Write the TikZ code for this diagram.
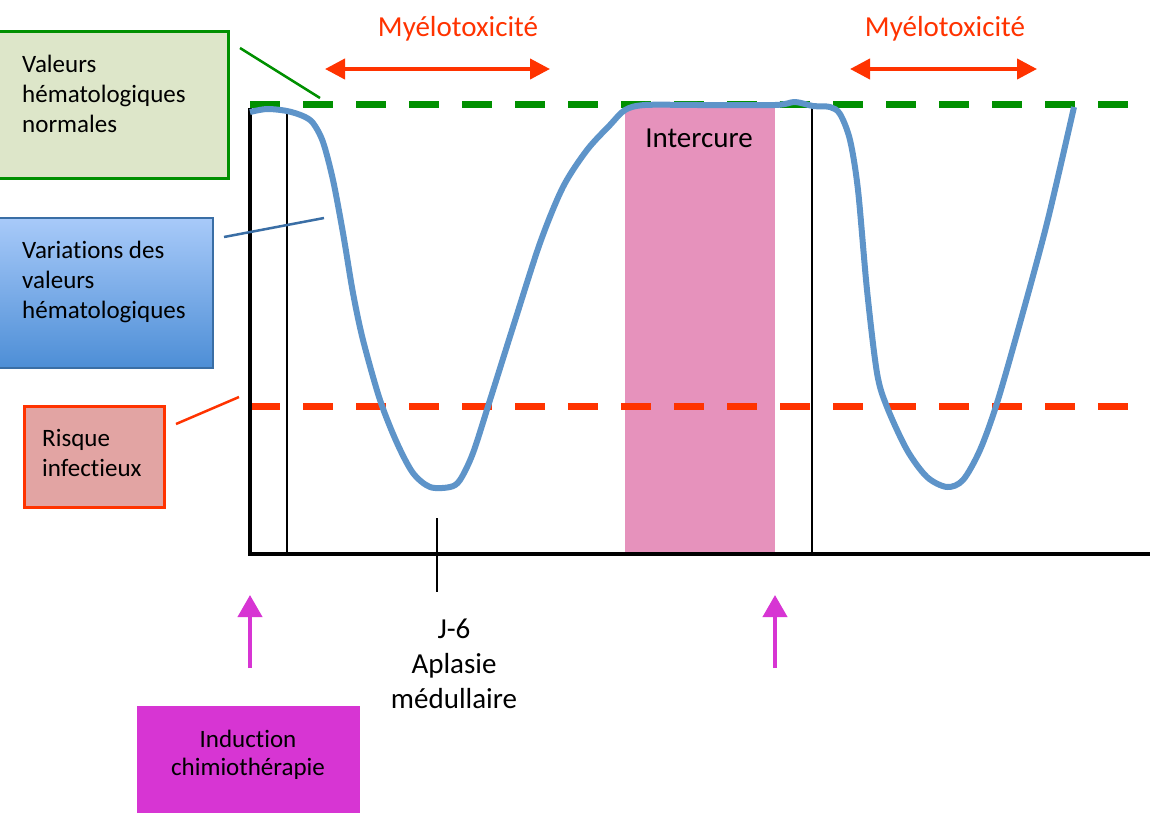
\documentclass[tikz,border=0pt]{standalone}
\usepackage{fontspec}
\setmainfont{Carlito}[Ligatures={NoCommon,NoContextual}]
\usetikzlibrary{arrows.meta}
\definecolor{gline}{HTML}{009000}
\definecolor{gfill}{HTML}{DDE6C9}
\definecolor{rline}{HTML}{FF3300}
\definecolor{rfill}{HTML}{E2A4A3}
\definecolor{btop}{HTML}{A8CAF9}
\definecolor{bbot}{HTML}{4D8ED6}
\definecolor{bborder}{HTML}{3A6EA5}
\definecolor{curve}{HTML}{5E94C9}
\definecolor{pinkc}{HTML}{E692BC}
\definecolor{magc}{HTML}{D735D3}
\begin{document}
\begin{tikzpicture}[x=1pt,y=-1pt,
  boxtext/.style={anchor=base west, align=left, inner sep=0pt, font=\fontsize{25}{30}\selectfont},
  level/.style={line width=7pt, dash pattern=on 30pt off 23pt},
  leader/.style={line width=2.5pt},
  chemo/.style={magc, line width=4pt, -{Triangle[width=24pt,length=22pt]}},
  myelo/.style={rline, line width=4pt, {Triangle[width=20pt,length=20pt]}-{Triangle[width=20pt,length=20pt]}},
  redtext/.style={rline, font=\fontsize{29}{34}\selectfont, anchor=base, inner sep=0pt}]
\useasboundingbox (0,0) rectangle (1150,812);
\fill[white] (0,0) rectangle (1150,812);

% intercure band
\node (band) [fill=pinkc, minimum width=150pt, minimum height=448pt, inner sep=0pt, anchor=north west] at (625,104) {};
\node (intercure) [anchor=base, inner sep=0pt, font=\fontsize{29}{34}\selectfont] at (699,147) {Intercure};

% level lines
\coordinate (gstart) at (250,104);
\coordinate (gend) at (1150,104);
\coordinate (rstart) at (250,406);
\coordinate (rend) at (1150,406);
\draw[level, gline] (gstart) -- (gend);
\draw[level, rline] (rstart) -- (rend);

% axes and markers
\coordinate (ytop) at (250,108);
\coordinate (origin) at (250,556);
\coordinate (xstart) at (248,554);
\coordinate (xend) at (1150,554);
\draw[line width=4pt] (ytop) -- (origin);
\draw[line width=4pt] (xstart) -- (xend);
\coordinate (v1top) at (287,108);
\coordinate (v1bot) at (287,554);
\coordinate (v2top) at (812,108);
\coordinate (v2bot) at (812,554);
\draw[line width=2pt] (v1top) -- (v1bot);
\draw[line width=2pt] (v2top) -- (v2bot);
\coordinate (ticktop) at (437,518);
\coordinate (tickbot) at (437,592);
\draw[line width=2.5pt] (ticktop) -- (tickbot);

% hematological curve
\draw[curve, line width=6pt, line join=round] plot[smooth, tension=0.5] coordinates {
 (250,112) (267,109) (287,111) (303,116) (313,123) (323,142) (333,180) (343,233)
 (353,293) (363,340) (380,400) (397,443) (413,473) (430,487) (450,487) (460,480)
 (473,453) (490,400) (513,327) (540,243) (563,187) (587,150) (610,125) (625,110)
 (645,105) (700,105) (775,105) (795,102) (813,106) (830,107) (840,114) (850,140)
 (858,190) (867,290) (877,373) (887,407) (907,450) (927,477) (947,487) (963,480)
 (980,450) (997,403) (1020,323) (1047,223) (1074,107)};

% legend boxes
\node (gbox) [draw=gline, line width=3pt, fill=gfill, minimum width=231pt, minimum height=147pt, inner sep=0pt, anchor=north west] at (-4,30) {};
\node (gtext) [boxtext] at (22,132) {Valeurs\\hématologiques\\normales};
\node (bbox) [draw=bborder, line width=2pt, top color=btop, bottom color=bbot, minimum width=216pt, minimum height=150pt, inner sep=0pt, anchor=north west] at (-4,217) {};
\node (btext) [boxtext] at (22,318) {Variations des\\valeurs\\hématologiques};
\node (rbox) [draw=rline, line width=3pt, fill=rfill, minimum width=140pt, minimum height=101pt, inner sep=0pt, anchor=north west] at (23,405) {};
\node (rtext) [boxtext] at (42,476) {Risque\\infectieux};

% leader lines
\coordinate (gl1) at (240,48);
\coordinate (gl2) at (320,98);
\draw[leader, gline] (gl1) -- (gl2);
\coordinate (bl1) at (224,237);
\coordinate (bl2) at (324,218);
\draw[leader, bborder] (bl1) -- (bl2);
\coordinate (rl1) at (176,424);
\coordinate (rl2) at (239,397);
\draw[leader, rline] (rl1) -- (rl2);

% myelotoxicity
\coordinate (m1a) at (325,69);
\coordinate (m1b) at (550,69);
\draw[myelo] (m1a) -- (m1b);
\node (mt1) [redtext] at (458,36) {Myélotoxicité};
\coordinate (m2a) at (850,69);
\coordinate (m2b) at (1037,69);
\draw[myelo] (m2a) -- (m2b);
\node (mt2) [redtext] at (945,36) {Myélotoxicité};

% chemo arrows
\coordinate (c1a) at (250,668);
\coordinate (c1b) at (250,595);
\draw[chemo] (c1a) -- (c1b);
\coordinate (c2a) at (775,668);
\coordinate (c2b) at (775,595);
\draw[chemo] (c2a) -- (c2b);
\node (ind) [fill=magc, minimum width=223pt, minimum height=110pt, inner sep=0pt, anchor=north west] at (137,706) {};
\node (indtext) [anchor=base, align=center, inner sep=0pt, font=\fontsize{25}{28}\selectfont] at (248,775) {Induction\\chimiothérapie};

% J-6 label
\node (j6) [anchor=base, align=center, inner sep=0pt, font=\fontsize{29}{35}\selectfont] at (454,708) {J-6\\Aplasie\\médullaire};
\end{tikzpicture}
\end{document}
